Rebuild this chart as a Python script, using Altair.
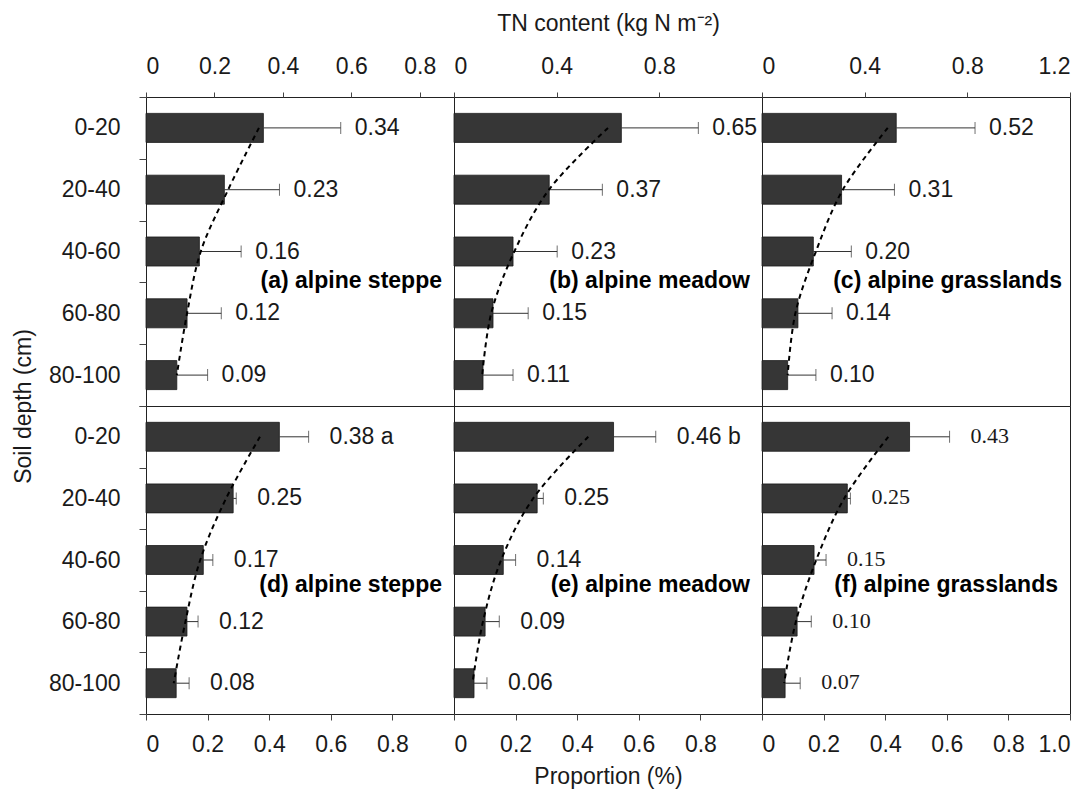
import altair as alt
import pandas as pd

depths = ["0-20", "20-40", "40-60", "60-80", "80-100"]

# ---- top row: TN content (kg N m-2) ----
a_mean = [0.343, 0.229, 0.156, 0.120, 0.090]
a_err = [0.226, 0.161, 0.122, 0.100, 0.090]
a_fit = [0.33, 0.24, 0.16, 0.12, 0.09]
a_lab = ["0.34", "0.23", "0.16", "0.12", "0.09"]

b_mean = [0.652, 0.371, 0.230, 0.152, 0.113]
b_err = [0.300, 0.207, 0.172, 0.137, 0.117]
b_fit = [0.60, 0.37, 0.235, 0.145, 0.11]
b_lab = ["0.65", "0.37", "0.23", "0.15", "0.11"]

c_mean = [0.523, 0.310, 0.200, 0.140, 0.100]
c_err = [0.307, 0.206, 0.148, 0.133, 0.110]
c_fit = [0.49, 0.315, 0.21, 0.13, 0.10]
c_lab = ["0.52", "0.31", "0.20", "0.14", "0.10"]

# ---- bottom row: proportion ----
d_mean = [0.433, 0.283, 0.186, 0.133, 0.098]
d_err = [0.095, 0.010, 0.031, 0.036, 0.042]
d_fit = [0.37, 0.26, 0.176, 0.128, 0.09]
d_lab = ["0.38 a", "0.25", "0.17", "0.12", "0.08"]

e_mean = [0.518, 0.270, 0.160, 0.101, 0.065]
e_err = [0.137, 0.020, 0.040, 0.046, 0.042]
e_fit = [0.436, 0.257, 0.153, 0.094, 0.06]
e_lab = ["0.46 b", "0.25", "0.14", "0.09", "0.06"]

f_mean = [0.479, 0.277, 0.169, 0.114, 0.075]
f_err = [0.130, 0.010, 0.039, 0.046, 0.049]
f_fit = [0.41, 0.267, 0.176, 0.11, 0.072]
f_lab = ["0.43", "0.25", "0.15", "0.10", "0.07"]

names = ["(a) alpine steppe", "(b) alpine meadow", "(c) alpine grasslands",
         "(d) alpine steppe", "(e) alpine meadow", "(f) alpine grasslands"]

top_domains = [[0, 0.9], [0, 1.2], [0, 1.2]]
top_ticks = [[0, 0.2, 0.4, 0.6, 0.8], [0, 0.4, 0.8], [0, 0.4, 0.8, 1.2]]
bot_domain = [0, 1.0]
bot_ticks = [[0, 0.2, 0.4, 0.6, 0.8], [0, 0.2, 0.4, 0.6, 0.8], [0, 0.2, 0.4, 0.6, 0.8, 1.0]]

W, H = 308, 309
SANS = "Liberation Sans"
FS = 23
TXT = "#1a1a1a"


def panel(mean, err, fit, lab, name, row, col, xdomain, xticks, label_font=SANS,
          label_size=FS, label_dy=0, name_pad=12):
    df = pd.DataFrame({
        "depth": depths,
        "mean": mean,
        "hi": [m + e for m, e in zip(mean, err)],
        "fit": fit,
        "label": lab,
        "order": list(range(len(depths))),
    })
    h = H if row == 0 else H - 1
    xscale = alt.Scale(domain=xdomain, nice=False, zero=True)
    if row == 0:
        xtitle = "TN content (kg N m\u207b\u00b2)" if col == 1 else None
        xaxis = alt.Axis(orient="top", values=xticks, title=xtitle,
                         labelExpr="datum.value == 0 ? '0' : format(datum.value, '.1f')",
                         labelFont=SANS, labelFontSize=FS, labelColor=TXT,
                         titleFont=SANS, titleFontSize=FS, titleColor=TXT, titleFontWeight="normal",
                         titlePadding=20, labelPadding=14, tickSize=5, tickColor="#444",
                         domain=False, grid=False)
    else:
        xtitle = "Proportion (%)" if col == 1 else None
        xaxis = alt.Axis(orient="bottom", values=xticks, title=xtitle,
                         labelExpr="datum.value == 0 ? '0' : format(datum.value, '.1f')",
                         labelFont=SANS, labelFontSize=FS, labelColor=TXT,
                         titleFont=SANS, titleFontSize=FS, titleColor=TXT, titleFontWeight="normal",
                         titlePadding=9, labelPadding=13, tickSize=6, tickColor="#444",
                         domain=False, grid=False)
    if col == 0:
        yaxis_kw = dict(tickBand="extent", labelFont=SANS, labelFontSize=FS, labelColor=TXT,
                        labelPadding=19, tickSize=7, tickColor="#444", domain=False, grid=False)
        if row == 0:
            yaxis = alt.Axis(title="Soil depth (cm)", titleFont=SANS, titleFontSize=FS,
                             titleColor=TXT, titleFontWeight="normal", titleAngle=-90,
                             titleX=-123, titleY=H, titleAlign="center", titleBaseline="middle",
                             **yaxis_kw)
        else:
            yaxis = alt.Axis(title=None, **yaxis_kw)
    else:
        yaxis = None

    yscale = alt.Scale(domain=depths, paddingInner=0, paddingOuter=0)

    def Y(**kw):
        return alt.Y("depth:N", scale=yscale, axis=yaxis, sort=depths, **kw)

    def X(field):
        return alt.X(field, scale=xscale, axis=xaxis)

    base = alt.Chart(df)
    bars = base.mark_bar(color="#363636", stroke="#1a1a1a", strokeWidth=0.8,
                         height={"band": 0.47}).encode(x=X("mean:Q"), y=Y())
    rules = base.mark_rule(color="#333333", strokeWidth=1).encode(
        x=X("mean:Q"), x2="hi:Q", y=Y())
    caps = base.mark_tick(color="#333333", thickness=1, size=12).encode(x=X("hi:Q"), y=Y())
    fitline = base.mark_line(color="#000000", strokeWidth=2, strokeDash=[5, 4],
                             interpolate="catmull-rom").encode(
        x=X("fit:Q"), y=Y(), order="order:Q")
    dx = 14 if row == 0 else 21
    vals = base.mark_text(align="left", baseline="middle", dx=dx, dy=label_dy,
                          fontSize=label_size, font=label_font, color=TXT).encode(
        x=X("hi:Q"), y=Y(), text="label:N")
    ndf = pd.DataFrame({"depth": ["60-80"], "name": [name]})
    ndy = -1 if row == 0 else -6
    nm = alt.Chart(ndf).mark_text(align="right", baseline="middle", fontWeight="bold",
                                  fontSize=FS, font=SANS, color="#000000", dy=ndy).encode(
        x=alt.value(W - name_pad), y=Y(bandPosition=0), text="name:N")
    return alt.layer(bars, rules, caps, fitline, vals, nm).properties(width=W, height=h)


panels = [
    panel(a_mean, a_err, a_fit, a_lab, names[0], 0, 0, top_domains[0], top_ticks[0]),
    panel(b_mean, b_err, b_fit, b_lab, names[1], 0, 1, top_domains[1], top_ticks[1]),
    panel(c_mean, c_err, c_fit, c_lab, names[2], 0, 2, top_domains[2], top_ticks[2], name_pad=8),
    panel(d_mean, d_err, d_fit, d_lab, names[3], 1, 0, bot_domain, bot_ticks[0]),
    panel(e_mean, e_err, e_fit, e_lab, names[4], 1, 1, bot_domain, bot_ticks[1]),
    panel(f_mean, f_err, f_fit, f_lab, names[5], 1, 2, bot_domain, bot_ticks[2],
          label_font="Liberation Serif", label_size=22, label_dy=-1),
]

chart = alt.concat(*panels, columns=3, spacing=0, bounds="flush").resolve_scale(
    x="independent", y="independent"
).properties(
    padding={"left": 3, "top": 3, "right": 0, "bottom": 0},
    background="white",
).configure_view(stroke="#222222", strokeWidth=1)

chart.save("out.html", embed_options={"renderer": "svg", "actions": False})
